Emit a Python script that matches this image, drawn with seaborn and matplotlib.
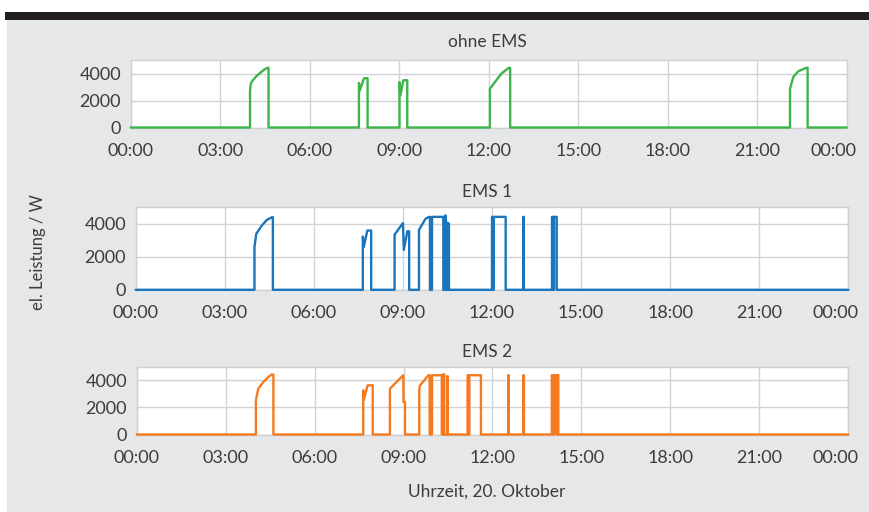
import matplotlib
matplotlib.use("Agg")
import matplotlib.pyplot as plt
import matplotlib.transforms as mtransforms
from matplotlib.patches import Rectangle
import seaborn as sns
import pandas as pd

# ---------------- data (hours of day, power in W) ----------------
t_ohne = [0, 4.00, 4.00, 4.02, 4.06, 4.22, 4.45, 4.58, 4.62, 4.62,
          7.65, 7.65, 7.68, 7.82, 7.94, 7.94,
          9.01, 9.01, 9.04, 9.14, 9.27, 9.27,
          12.04, 12.04, 12.21, 12.43, 12.66, 12.72, 12.72,
          22.10, 22.10, 22.21, 22.38, 22.64, 22.69, 22.69, 24]
p_ohne = [0, 0, 2700, 3200, 3400, 3820, 4250, 4420, 4420, 0,
          0, 3300, 2750, 3650, 3650, 0,
          0, 3350, 2400, 3500, 3500, 0,
          0, 2870, 3370, 4000, 4400, 4420, 0,
          0, 2870, 3750, 4170, 4420, 4420, 0, 0]

t_ems1 = [0, 4.00, 4.00, 4.06, 4.25, 4.42, 4.59, 4.62, 4.62,
          7.65, 7.65, 7.68, 7.80, 7.93, 7.93,
          8.72, 8.72, 9.00, 9.03, 9.15, 9.21, 9.21,
          9.54, 9.54, 9.76, 9.88, 9.91, 9.91, 9.98, 9.98, 10.36, 10.36,
          10.42, 10.42, 10.44, 10.44, 10.50, 10.50, 10.52, 10.55, 10.55,
          12.00, 12.00, 12.03, 12.03, 12.06, 12.06, 12.46, 12.46,
          13.05, 13.05, 13.07, 13.07,
          14.02, 14.02, 14.06, 14.06, 14.09, 14.09, 14.18, 14.18, 24]
p_ems1 = [0, 0, 2580, 3390, 3900, 4240, 4400, 4400, 0,
          0, 3230, 2580, 3590, 3590, 0,
          0, 3350, 4040, 2420, 3550, 3550, 0,
          0, 3630, 4300, 4420, 4420, 0, 0, 4420, 4420, 0,
          0, 4500, 4500, 0, 0, 4070, 3600, 4000, 0,
          0, 4420, 4420, 0, 0, 4420, 4420, 0,
          0, 4420, 4420, 0,
          0, 4420, 4420, 0, 0, 4420, 4420, 0, 0]

t_ems2 = [0, 4.02, 4.02, 4.10, 4.27, 4.44, 4.55, 4.61, 4.61,
          7.64, 7.64, 7.66, 7.79, 7.96, 7.96,
          8.54, 8.54, 8.99, 9.00, 9.05, 9.05,
          9.53, 9.53, 9.55, 9.84, 9.88, 9.88, 9.96, 9.96, 10.29, 10.29,
          10.34, 10.34, 10.37, 10.37, 10.47, 10.47, 10.49, 10.49,
          11.16, 11.16, 11.19, 11.19, 11.22, 11.22, 11.61, 11.61,
          12.53, 12.53, 12.55, 12.55,
          13.04, 13.04, 13.06, 13.06,
          14.00, 14.00, 14.05, 14.05, 14.08, 14.08, 14.16, 14.16, 14.18, 14.18, 14.22, 14.22, 24]
p_ems2 = [0, 0, 2520, 3380, 3870, 4240, 4420, 4420, 0,
          0, 3260, 2570, 3630, 3630, 0,
          0, 3380, 4370, 2390, 2390, 0,
          0, 3300, 3600, 4370, 4370, 0, 0, 4370, 4370, 0,
          0, 4440, 4440, 0, 0, 4300, 4300, 0,
          0, 4370, 4370, 0, 0, 4370, 4370, 0,
          0, 4370, 4370, 0,
          0, 4370, 4370, 0,
          0, 4370, 4370, 0, 0, 4370, 4370, 0, 0, 4370, 4370, 0, 0]

titles = ["ohne EMS", "EMS 1", "EMS 2"]
colors = ["#3db54a", "#1b75bc", "#f47a20"]
xticks = [0, 3, 6, 9, 12, 15, 18, 21, 24]
xticklabels = ["00:00", "03:00", "06:00", "09:00", "12:00", "15:00", "18:00", "21:00", "00:00"]
yticks = [0, 2000, 4000]
yticklabels = ["0", "2000", "4000"]
ylabel = "el. Leistung / W"
xlabel = "Uhrzeit, 20. Oktober"

# ---------------- style ----------------
sns.set_theme(style="whitegrid")
plt.rcParams["font.family"] = ["Lato", "DejaVu Sans"]
TXT = "#3c3c3e"

W, H = 869, 512
fig = plt.figure(figsize=(W / 100, H / 100), dpi=100, facecolor="white")
fig.patches.append(Rectangle((7 / W, 0), 1 - 7 / W, 1 - 20 / H, transform=fig.transFigure,
                             facecolor="#e6e7e8", edgecolor="none", zorder=-10))
fig.patches.append(Rectangle((5 / W, 1 - 20 / H), 1 - 5 / W, 8 / H, transform=fig.transFigure,
                             facecolor="#231f20", edgecolor="none", zorder=-10))

# axes boxes in pixels: left, right, top, bottom
boxes = [(130.7, 846.7, 60.0, 127.5),
         (135.7, 848.3, 207.3, 289.8),
         (136.7, 848.3, 366.7, 434.5)]
title_base = [47, 197, 357]

series = [(t_ohne, p_ohne), (t_ems1, p_ems1), (t_ems2, p_ems2)]

for i, ((l, r, t, b), (tt, pp)) in enumerate(zip(boxes, series)):
    ax = fig.add_axes([l / W, 1 - b / H, (r - l) / W, (b - t) / H])
    ax.set_facecolor("white")
    df = pd.DataFrame({"t": tt, "p": pp})
    sns.lineplot(data=df, x="t", y="p", ax=ax, color=colors[i], linewidth=1.7,
                 estimator=None, sort=False, clip_on=False, zorder=5)
    ax.set_xlim(0, 24)
    ax.set_ylim(0, 5000)
    ax.set_xticks(xticks)
    ax.set_xticklabels(xticklabels)
    ax.set_yticks(yticks)
    ax.set_yticklabels(yticklabels)
    ax.set_xlabel("")
    ax.set_ylabel("")
    ax.grid(True, color="#d2d3d5", linewidth=1.0)
    ax.tick_params(axis="both", length=0, labelsize=13, labelcolor=TXT)
    ax.tick_params(axis="x", pad=11)
    ax.tick_params(axis="y", pad=7)
    for s in ax.spines.values():
        s.set_color("#d0d1d3")
        s.set_linewidth(1.0)
    # shift last "00:00" label left so it stays inside the figure
    lab = ax.get_xticklabels()[-1]
    lab.set_transform(lab.get_transform() + mtransforms.ScaledTranslation(-13 / 100, 0, fig.dpi_scale_trans))
    fig.text(487 / W, 1 - title_base[i] / H, titles[i], ha="center", va="baseline",
             fontsize=12.5, color=TXT)

fig.text(38 / W, 1 - 252 / H, ylabel, rotation=90, ha="center", va="center",
         fontsize=12, color=TXT)
fig.text(487 / W, 1 - 497 / H, xlabel, ha="center", va="baseline",
         fontsize=12.5, color=TXT)

fig.savefig("out.png", dpi=100, facecolor="white")
